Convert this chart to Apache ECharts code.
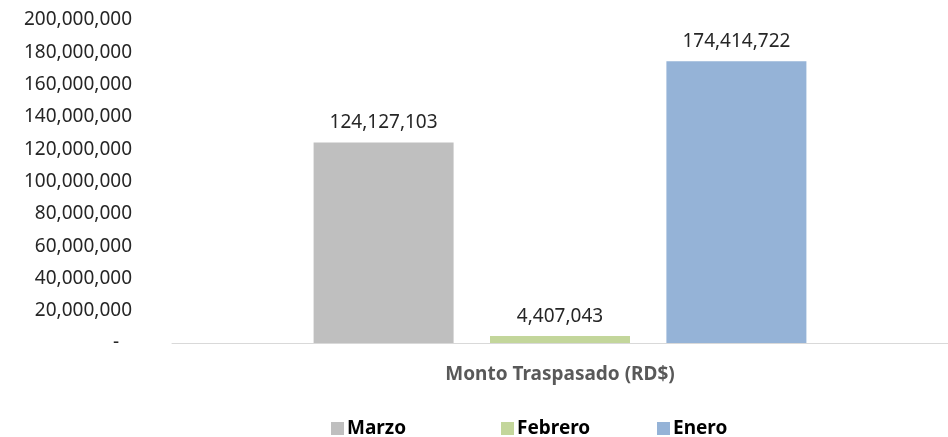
<!DOCTYPE html>
<html>
<head>
<meta charset="utf-8">
<script src="https://cdn.jsdelivr.net/npm/echarts@6/dist/echarts.min.js"></script>
<style>
  html, body { margin: 0; padding: 0; background: #fff; }
  #chart { width: 948px; height: 437px; }
</style>
</head>
<body>
<div id="chart"></div>
<script>
// data
const categories = ['Monto Traspasado (RD$)'];
const seriesNames = ['Marzo', 'Febrero', 'Enero'];
const marzo = [124127103];
const febrero = [4407043];
const enero = [174414722];
const seriesColors = ['#bfbfbf', '#c3d69b', '#95b3d7'];
const yMin = 0;
const yMax = 200000000;
const yStep = 20000000;

const font = '"Noto Sans", "Open Sans", sans-serif';
const fmt = v => v === 0 ? '{d|-}' : v.toLocaleString('en-US');

const chart = echarts.init(document.getElementById('chart'));

const mkSeries = (name, data, color) => ({
    name: name,
    type: 'bar',
    data: data,
    barWidth: 140,
    barGap: '26%',
    itemStyle: { color: color },
    label: {
        show: true,
        position: 'top',
        distance: 10,
        color: '#262626',
        fontFamily: font,
        fontSize: 19,
        formatter: p => p.value.toLocaleString('en-US')
    }
});

const legendLefts = [326, 496, 652];

const option = {
    animation: false,
    backgroundColor: '#fff',
    grid: {
        left: 172,
        right: 0,
        top: 20,
        bottom: 94
    },
    legend: seriesNames.map((n, i) => ({
        data: [n],
        left: legendLefts[i],
        top: 414,
        itemWidth: 13,
        itemHeight: 13,
        icon: 'rect',
        textStyle: {
            color: '#000',
            fontWeight: 'bold',
            fontFamily: font,
            fontSize: 19,
            padding: [0, 0, 0, -2]
        }
    })),
    xAxis: {
        type: 'category',
        data: categories,
        axisLine: { lineStyle: { color: '#d9d9d9', width: 1 } },
        axisTick: { show: false },
        axisLabel: {
            color: '#595959',
            fontWeight: 'bold',
            fontFamily: font,
            fontSize: 19,
            margin: 22
        }
    },
    yAxis: {
        type: 'value',
        min: yMin,
        max: yMax,
        interval: yStep,
        axisLine: { show: false },
        axisTick: { show: false },
        splitLine: { show: false },
        axisLabel: {
            color: '#262626',
            fontFamily: font,
            fontSize: 19,
            margin: 40,
            formatter: fmt,
            rich: {
                d: { padding: [0, 13, 0, 0], fontSize: 19, color: '#262626' }
            }
        }
    },
    series: [
        mkSeries(seriesNames[0], marzo, seriesColors[0]),
        mkSeries(seriesNames[1], febrero, seriesColors[1]),
        mkSeries(seriesNames[2], enero, seriesColors[2])
    ]
};

chart.setOption(option);
</script>
</body>
</html>
